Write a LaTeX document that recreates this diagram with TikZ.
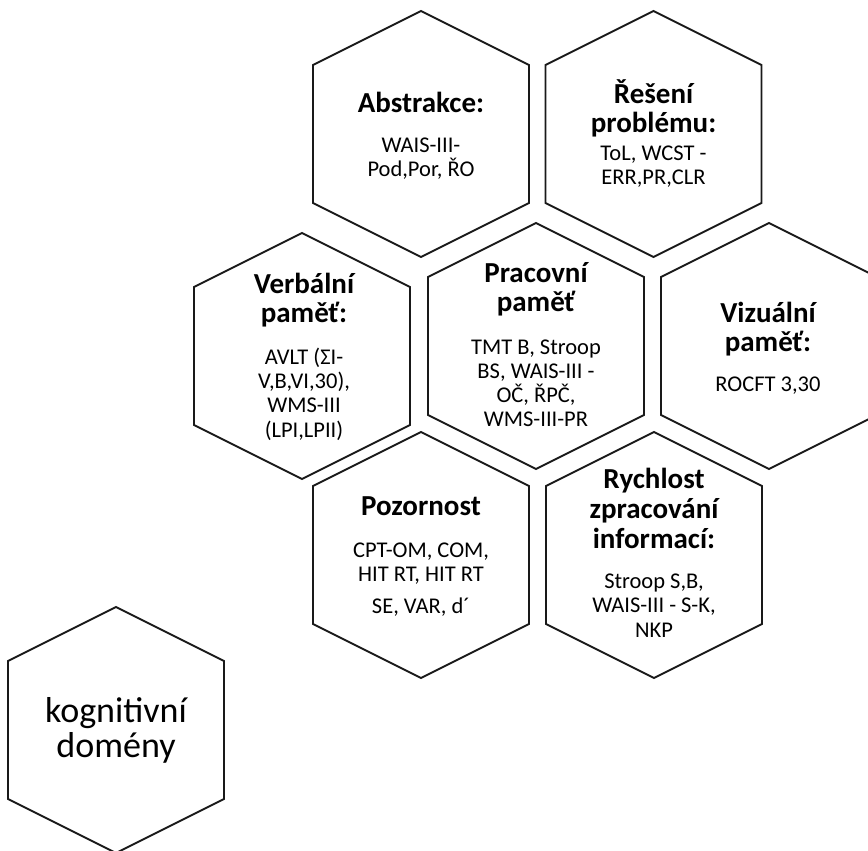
\documentclass[tikz,border=0pt]{standalone}
\usepackage{fontspec}
\setmainfont{Carlito}
\usepackage{tikz}
\usetikzlibrary{positioning}

\tikzset{
  hexline/.style={draw=black!90, line width=1.1pt, line join=miter},
  headtext/.style={anchor=base, align=center, font=\fontsize{16.5}{16.8}\selectfont\bfseries},
  bodytext/.style={anchor=base, align=center, font=\fontsize{12.8}{13.8}\selectfont}
}

\begin{document}
\begin{tikzpicture}

  \useasboundingbox (0,0) rectangle (17.36,17);
  \clip (0,0) rectangle (17.36,17);

  % centres of the cells
  \coordinate (abs)  at (8.42,14.32);
  \coordinate (res)  at (13.07,14.32);
  \coordinate (verb) at (6.04,9.88);
  \coordinate (prac) at (10.72,10.08);
  \coordinate (viz)  at (15.38,10.08);
  \coordinate (poz)  at (8.42,5.90);
  \coordinate (rych) at (13.08,5.90);
  \coordinate (kog)  at (2.32,2.40);

  \foreach \c in {abs,res,verb,prac,viz,poz,rych,kog}
    \draw[hexline] (\c) ++(0,2.46) -- ++(2.16,-1.08) -- ++(0,-2.76) -- ++(-2.16,-1.08) -- ++(-2.16,1.08) -- ++(0,2.76) -- cycle;

  % texts, placed by the baseline of their last line
  \node[headtext] (abs-head) at (8.42,14.74) {Abstrakce:};
  \node[bodytext] (abs-body) at (8.42,13.46) {WAIS-III-\\Pod,Por, ŘO};

  \node[headtext] (res-head) at (13.07,14.34) {Řešení\\problému:};
  \node[bodytext] (res-body) at (13.07,13.30) {ToL, WCST -\\ERR,PR,CLR};

  \node[headtext] (verb-head) at (6.08,10.54) {Verbální\\paměť:};
  \node[bodytext] (verb-body) at (6.08,8.26) {AVLT (ΣI-\\V,B,VI,30),\\WMS-III\\(LPI,LPII)};

  \node[headtext] (prac-head) at (10.72,10.76) {Pracovní\\paměť};
  \node[bodytext] (prac-body) at (10.72,8.46) {TMT B, Stroop\\BS, WAIS-III -\\OČ, ŘPČ,\\WMS-III-PR};

  \node[headtext] (viz-head) at (15.36,9.96) {Vizuální\\paměť:};
  \node[bodytext] (viz-body) at (15.36,9.16) {ROCFT 3,30};

  \node[headtext] (poz-head) at (8.42,6.70) {Pozornost};
  \node[bodytext] (poz-body) at (8.42,4.74) {CPT-OM, COM,\\HIT RT, HIT RT\\[4pt]SE, VAR, d´};

  \node[headtext] (rych-head) at (13.08,6.04) {Rychlost\\zpracování\\informací:};
  \node[bodytext] (rych-body) at (13.08,4.26) {Stroop S,B,\\WAIS-III - S-K,\\NKP};

  \node[anchor=base, align=center, font=\fontsize{20.5}{19.5}\selectfont] (kog-text) at (2.32,1.86) {kognitivní\\domény};

\end{tikzpicture}
\end{document}
